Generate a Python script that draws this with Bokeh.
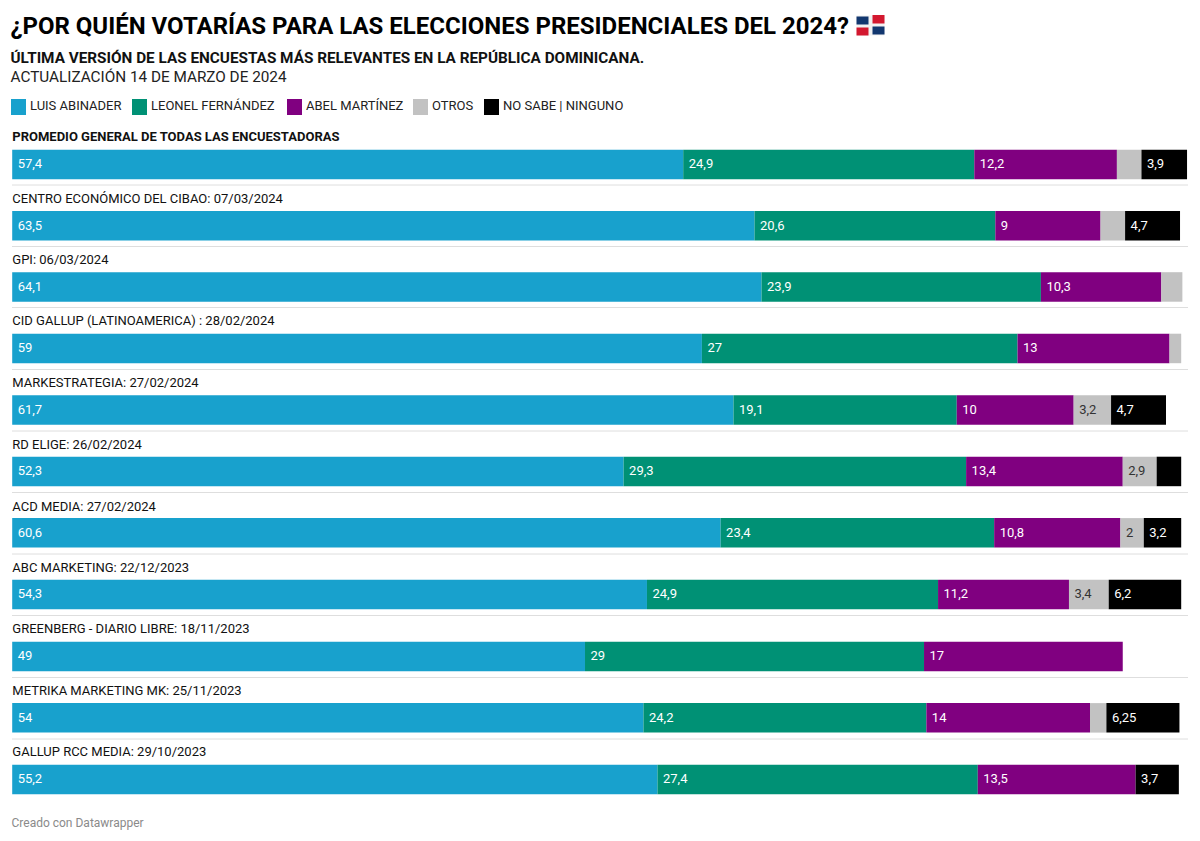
from bokeh.plotting import figure
from bokeh.models import Range1d
from bokeh.core.properties import value
from bokeh.embed import file_html
from bokeh.resources import INLINE

title = "¿POR QUIÉN VOTARÍAS PARA LAS ELECCIONES PRESIDENCIALES DEL 2024?"
subtitle = "ÚLTIMA VERSIÓN DE LAS ENCUESTAS MÁS RELEVANTES EN LA REPÚBLICA DOMINICANA."
update = "ACTUALIZACIÓN 14 DE MARZO DE 2024"
footer = "Creado con Datawrapper"

series = ["LUIS ABINADER", "LEONEL FERNÁNDEZ", "ABEL MARTÍNEZ", "OTROS", "NO SABE | NINGUNO"]
colors = ["#18a1cd", "#009175", "#800080", "#c2c2c2", "#000000"]
label_colors = ["#ffffff", "#ffffff", "#ffffff", "#333333", "#ffffff"]

polls = ["PROMEDIO GENERAL DE TODAS LAS ENCUESTADORAS", "CENTRO ECONÓMICO DEL CIBAO: 07/03/2024", "GPI: 06/03/2024",
         "CID GALLUP (LATINOAMERICA) : 28/02/2024", "MARKESTRATEGIA: 27/02/2024", "RD ELIGE: 26/02/2024",
         "ACD MEDIA: 27/02/2024", "ABC MARKETING: 22/12/2023", "GREENBERG - DIARIO LIBRE: 18/11/2023",
         "METRIKA MARKETING MK: 25/11/2023", "GALLUP RCC MEDIA: 29/10/2023"]

abinader = [57.4, 63.5, 64.1, 59, 61.7, 52.3, 60.6, 54.3, 49, 54, 55.2]
fernandez = [24.9, 20.6, 23.9, 27, 19.1, 29.3, 23.4, 24.9, 29, 24.2, 27.4]
martinez = [12.2, 9, 10.3, 13, 10, 13.4, 10.8, 11.2, 17, 14, 13.5]
otros = [2.1, 2.1, 1.8, 1, 3.2, 2.9, 2, 3.4, 0, 1.4, 0]
nosabe = [3.9, 4.7, 0, 0, 4.7, 2.1, 3.2, 6.2, 0, 6.25, 3.7]
# which values are printed on the bars
shown_otros = [None, None, None, None, "3,2", "2,9", "2", "3,4", None, None, None]
shown_nosabe = ["3,9", "4,7", None, None, "4,7", None, "3,2", "6,2", None, "6,25", "3,7"]

bar_tops = [149.2, 210.4, 271.7, 333.2, 394.7, 456.2, 517.6, 579.2, 641.2, 702.6, 764.2]
bar_height = 29.5
label_ys = [135.5, 197.5, 258.5, 320, 381.5, 443.5, 505.5, 566.5, 627.5, 689.5, 750.5]
rule_ys = [184.5, 246, 307, 369, 430.5, 492, 553.5, 615, 677, 738.5]
legend_xs = [10.5, 131.5, 286.5, 412.5, 483.5]

W, H = 1192, 833
PX = 11.69
FONT = value("Roboto")

p = figure(width=W, height=H, output_backend="svg", toolbar_location=None, min_border=0,
           x_range=Range1d(-11.7 / PX, (W - 11.7) / PX), y_range=Range1d(H, 0),
           x_axis_type=None, y_axis_type=None, outline_line_color=None)
p.grid.visible = False
p.extra_x_ranges = {"px": Range1d(0, W)}


def txt(x, y, s, size, color="#1a1a1a", style="normal"):
    p.text([x], [y], text=[s], x_range_name="px", text_font=FONT, text_font_size=f"{size}px",
           text_color=color, text_font_style=style, text_baseline="middle", text_align="left")


txt(10, 25.5, title, 24, "#000000", "bold")
txt(10, 57.5, subtitle, 15.3, "#111111", "bold")
txt(10, 76, update, 15.3, "#222222")
txt(11, 822.5, footer, 12, "#8a8a8a")

# flag emoji
p.quad(left=[856], right=[884], top=[15], bottom=[35], x_range_name="px", fill_color="#f2f2f2", line_color=None)
p.quad(left=[856, 872, 856, 872], right=[868, 884, 868, 884], top=[16, 14.5, 27, 26], bottom=[24, 23, 35, 34],
       x_range_name="px", fill_color=["#12376f", "#d3182f", "#d3182f", "#12376f"], line_color=None)

for i, (s, c) in enumerate(zip(series, colors)):
    p.quad(left=[legend_xs[i]], right=[legend_xs[i] + 15], top=[98.5], bottom=[114.5], x_range_name="px",
           fill_color=c, line_color=None)
    txt(legend_xs[i] + 19, 105.3, s, 13, "#222222")

for i, name in enumerate(polls):
    txt(11.8, label_ys[i], name, 13, "#111111", "bold" if i == 0 else "normal")

p.segment(x0=[12] * len(rule_ys), x1=[1188] * len(rule_ys), y0=rule_ys, y1=rule_ys, x_range_name="px",
          line_color="#bdbdbd", line_width=1, line_dash="1 1")

data = [abinader, fernandez, martinez, otros, nosabe]
fmt = lambda v: str(v).replace(".", ",")
left = [0.0] * len(polls)
for k, vals in enumerate(data):
    right = [a + b for a, b in zip(left, vals)]
    idx = [i for i, v in enumerate(vals) if v > 0]
    p.quad(left=[left[i] for i in idx], right=[right[i] for i in idx],
           top=[bar_tops[i] for i in idx], bottom=[bar_tops[i] + bar_height for i in idx],
           fill_color=colors[k], line_color=None)
    if k < 3:
        labels = [fmt(v) for v in vals]
    else:
        labels = shown_otros if k == 3 else shown_nosabe
    lidx = [i for i in idx if labels[i]]
    p.text(x=[left[i] for i in lidx], y=[bar_tops[i] + bar_height / 2 - 0.5 for i in lidx],
           text=[labels[i] for i in lidx], x_offset=5.5, text_font=FONT, text_font_size="13px",
           text_color=label_colors[k], text_baseline="middle", text_align="left")
    left = right

open("out.html", "w").write(file_html(p, INLINE))
